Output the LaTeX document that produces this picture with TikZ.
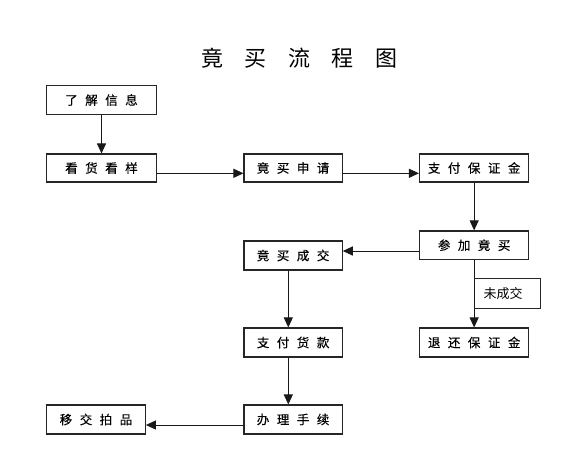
\documentclass[tikz,border=0pt]{standalone}
\usepackage{fontspec}
\setmainfont{Noto Sans CJK SC}
\newfontfamily\boxfont[FakeBold=0.4]{Noto Sans CJK SC}
\usetikzlibrary{arrows.meta}
\newcommand\gapA{\kern7.5pt}
\newcommand\gapT{\kern21.5pt}
\begin{document}
\begin{tikzpicture}[x=1pt,y=-1pt,
  box/.style={draw=black!85,line width=1.1pt,fill=white,inner sep=0pt,font=\boxfont\fontsize{12.5}{14}\selectfont},
  lbl/.style={draw=black!85,line width=1pt,fill=white,inner sep=0pt,font=\fontsize{13}{15}\selectfont},
  arr/.style={draw=black!90,line width=1pt,-{Triangle[length=10pt,width=9pt]}}]
\useasboundingbox (0,0) rectangle (577,469);
\node[font=\fontsize{22}{24}\selectfont] (title) at (299.5,58) {竟\gapT 买\gapT 流\gapT 程\gapT 图};
\node[box,minimum width=109.7pt,minimum height=28.5pt] (info) at (101.5,100) {了\gapA 解\gapA 信\gapA 息};
\node[box,minimum width=109.7pt,minimum height=28pt] (look) at (101.5,168) {看\gapA 货\gapA 看\gapA 样};
\node[box,minimum width=98.2pt,minimum height=28pt] (apply) at (293.1,168) {竟\gapA 买\gapA 申\gapA 请};
\node[box,minimum width=109.3pt,minimum height=28pt] (deposit) at (474.15,168) {支\gapA 付\gapA 保\gapA 证\gapA 金};
\node[box,minimum width=109.3pt,minimum height=28.5pt] (join) at (474.15,245.2) {参\gapA 加\gapA 竟\gapA 买};
\node[box,minimum width=98.2pt,minimum height=29pt] (deal) at (293.1,255.5) {竟\gapA 买\gapA 成\gapA 交};
\node[lbl,minimum width=66pt,minimum height=30pt] (nodeal) at (507,293.3) {\kern-8pt\raisebox{-2pt}{未成交}};
\node[box,minimum width=109.3pt,minimum height=29pt] (refund) at (474.15,342.5) {退\gapA 还\gapA 保\gapA 证\gapA 金};
\node[box,minimum width=98.2pt,minimum height=29pt] (pay) at (293.1,342.5) {支\gapA 付\gapA 货\gapA 款};
\node[box,minimum width=98.2pt,minimum height=29pt] (proc) at (293.1,419.5) {办\gapA 理\gapA 手\gapA 续};
\node[box,minimum width=98.7pt,minimum height=29pt] (hand) at (96,419.5) {移\gapA 交\gapA 拍\gapA 品};
\draw[arr] (info) -- (look);
\draw[arr] ([yshift=-5.3pt]look.east) -- ([yshift=-5.3pt]apply.west);
\draw[arr] ([yshift=-5.3pt]apply.east) -- ([yshift=-5.3pt]deposit.west);
\draw[arr] (deposit) -- (join);
\draw[arr] ([yshift=-5.8pt]join.west) -- ([yshift=-5.8pt]join.west -| deal.east);
\draw[arr] (join) -- (refund);
\draw[arr] ([xshift=-4.8pt]deal.south) -- ([xshift=-4.8pt]pay.north);
\draw[arr] ([xshift=-4.8pt]pay.south) -- ([xshift=-4.8pt]proc.north);
\draw[arr] ([yshift=-5.5pt]proc.west) -- ([yshift=-5.5pt]proc.west -| hand.east);
\end{tikzpicture}
\end{document}
